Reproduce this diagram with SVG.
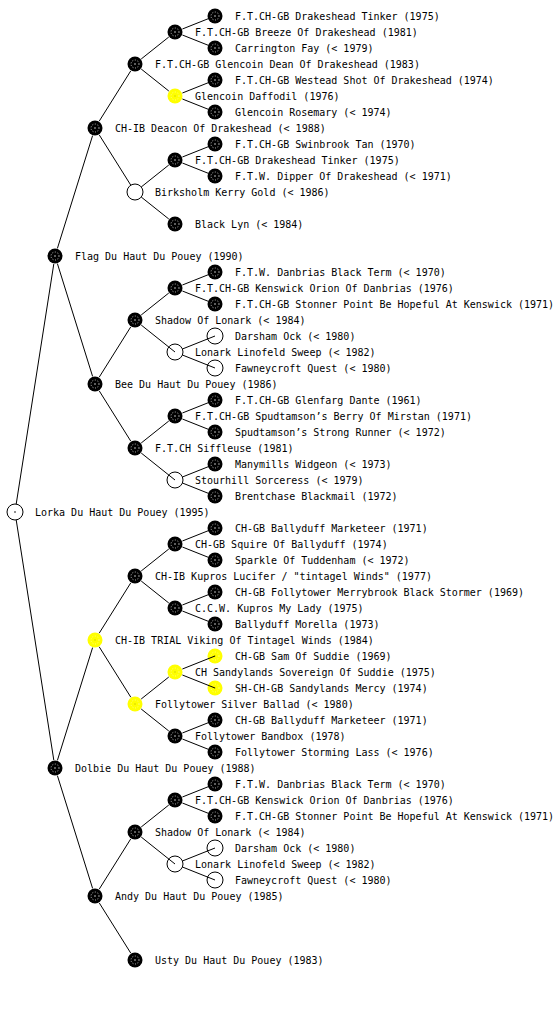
<svg xmlns="http://www.w3.org/2000/svg" xmlns:xlink="http://www.w3.org/1999/xlink" width="560" height="1024" viewBox="0 0 560 1024">
<style>
text{font-family:"DejaVu Sans Mono","Liberation Mono",monospace;font-size:10px;fill:#000}
.c line{stroke:#000;stroke-width:1}
.w{fill:#fff;stroke:#000;stroke-width:1}
</style>
<defs>
<g id="bn"><circle r="7.5" fill="#000"/><circle r="4" fill="none" stroke="#fff" stroke-width="0.8" stroke-dasharray="0.9 1.7"/><circle r="0.7" fill="#fff"/></g>
<g id="yn"><circle r="7.5" fill="#ffff00"/><circle r="4" fill="none" stroke="#fffbb0" stroke-width="0.8" stroke-dasharray="0.9 1.7"/><circle r="0.7" fill="#c8c800"/></g>
</defs>
<rect width="560" height="1024" fill="#fff"/>
<g id="nodes">
<g id="n0"><circle class="w" cx="15" cy="512" r="8"/><circle cx="15" cy="512" r="0.8" fill="#000"/><text x="35" y="516">Lorka Du Haut Du Pouey (1995)</text></g>
<g id="n1"><use xlink:href="#bn" x="55" y="256"/><text x="75" y="260">Flag Du Haut Du Pouey (1990)</text></g>
<g id="n2"><use xlink:href="#bn" x="55" y="768"/><text x="75" y="772">Dolbie Du Haut Du Pouey (1988)</text></g>
<g id="n11"><use xlink:href="#bn" x="95" y="128"/><text x="115" y="132">CH-IB Deacon Of Drakeshead (&lt; 1988)</text></g>
<g id="n12"><use xlink:href="#bn" x="95" y="384"/><text x="115" y="388">Bee Du Haut Du Pouey (1986)</text></g>
<g id="n21"><use xlink:href="#yn" x="95" y="640"/><text x="115" y="644">CH-IB TRIAL Viking Of Tintagel Winds (1984)</text></g>
<g id="n22"><use xlink:href="#bn" x="95" y="896"/><text x="115" y="900">Andy Du Haut Du Pouey (1985)</text></g>
<g id="n111"><use xlink:href="#bn" x="135" y="64"/><text x="155" y="68">F.T.CH-GB Glencoin Dean Of Drakeshead (1983)</text></g>
<g id="n112"><circle class="w" cx="135" cy="192" r="8"/><text x="155" y="196">Birksholm Kerry Gold (&lt; 1986)</text></g>
<g id="n121"><use xlink:href="#bn" x="135" y="320"/><text x="155" y="324">Shadow Of Lonark (&lt; 1984)</text></g>
<g id="n122"><use xlink:href="#bn" x="135" y="448"/><text x="155" y="452">F.T.CH Siffleuse (1981)</text></g>
<g id="n211"><use xlink:href="#bn" x="135" y="576"/><text x="155" y="580">CH-IB Kupros Lucifer / "tintagel Winds" (1977)</text></g>
<g id="n212"><use xlink:href="#yn" x="135" y="704"/><text x="155" y="708">Follytower Silver Ballad (&lt; 1980)</text></g>
<g id="n221"><use xlink:href="#bn" x="135" y="832"/><text x="155" y="836">Shadow Of Lonark (&lt; 1984)</text></g>
<g id="n222"><use xlink:href="#bn" x="135" y="960"/><text x="155" y="964">Usty Du Haut Du Pouey (1983)</text></g>
<g id="n1111"><use xlink:href="#bn" x="175" y="32"/><text x="195" y="36">F.T.CH-GB Breeze Of Drakeshead (1981)</text></g>
<g id="n1112"><use xlink:href="#yn" x="175" y="96"/><text x="195" y="100">Glencoin Daffodil (1976)</text></g>
<g id="n1121"><use xlink:href="#bn" x="175" y="160"/><text x="195" y="164">F.T.CH-GB Drakeshead Tinker (1975)</text></g>
<g id="n1122"><use xlink:href="#bn" x="175" y="224"/><text x="195" y="228">Black Lyn (&lt; 1984)</text></g>
<g id="n1211"><use xlink:href="#bn" x="175" y="288"/><text x="195" y="292">F.T.CH-GB Kenswick Orion Of Danbrias (1976)</text></g>
<g id="n1212"><circle class="w" cx="175" cy="352" r="8"/><text x="195" y="356">Lonark Linofeld Sweep (&lt; 1982)</text></g>
<g id="n1221"><use xlink:href="#bn" x="175" y="416"/><text x="195" y="420">F.T.CH-GB Spudtamson’s Berry Of Mirstan (1971)</text></g>
<g id="n1222"><circle class="w" cx="175" cy="480" r="8"/><text x="195" y="484">Stourhill Sorceress (&lt; 1979)</text></g>
<g id="n2111"><use xlink:href="#bn" x="175" y="544"/><text x="195" y="548">CH-GB Squire Of Ballyduff (1974)</text></g>
<g id="n2112"><use xlink:href="#bn" x="175" y="608"/><text x="195" y="612">C.C.W. Kupros My Lady (1975)</text></g>
<g id="n2121"><use xlink:href="#yn" x="175" y="672"/><text x="195" y="676">CH Sandylands Sovereign Of Suddie (1975)</text></g>
<g id="n2122"><use xlink:href="#bn" x="175" y="736"/><text x="195" y="740">Follytower Bandbox (1978)</text></g>
<g id="n2211"><use xlink:href="#bn" x="175" y="800"/><text x="195" y="804">F.T.CH-GB Kenswick Orion Of Danbrias (1976)</text></g>
<g id="n2212"><circle class="w" cx="175" cy="864" r="8"/><text x="195" y="868">Lonark Linofeld Sweep (&lt; 1982)</text></g>
<g id="g5a"><use xlink:href="#bn" x="215" y="16"/><text x="235" y="20">F.T.CH-GB Drakeshead Tinker (1975)</text></g>
<g id="g5b"><use xlink:href="#bn" x="215" y="48"/><text x="235" y="52">Carrington Fay (&lt; 1979)</text></g>
<g id="g5c"><use xlink:href="#bn" x="215" y="80"/><text x="235" y="84">F.T.CH-GB Westead Shot Of Drakeshead (1974)</text></g>
<g id="g5d"><use xlink:href="#bn" x="215" y="112"/><text x="235" y="116">Glencoin Rosemary (&lt; 1974)</text></g>
<g id="g5e"><use xlink:href="#bn" x="215" y="144"/><text x="235" y="148">F.T.CH-GB Swinbrook Tan (1970)</text></g>
<g id="g5f"><use xlink:href="#bn" x="215" y="176"/><text x="235" y="180">F.T.W. Dipper Of Drakeshead (&lt; 1971)</text></g>
<g id="g5g"><use xlink:href="#bn" x="215" y="272"/><text x="235" y="276">F.T.W. Danbrias Black Term (&lt; 1970)</text></g>
<g id="g5h"><use xlink:href="#bn" x="215" y="304"/><text x="235" y="308">F.T.CH-GB Stonner Point Be Hopeful At Kenswick (1971)</text></g>
<g id="g5i"><circle class="w" cx="215" cy="336" r="8"/><text x="235" y="340">Darsham Ock (&lt; 1980)</text></g>
<g id="g5j"><circle class="w" cx="215" cy="368" r="8"/><text x="235" y="372">Fawneycroft Quest (&lt; 1980)</text></g>
<g id="g5k"><use xlink:href="#bn" x="215" y="400"/><text x="235" y="404">F.T.CH-GB Glenfarg Dante (1961)</text></g>
<g id="g5l"><use xlink:href="#bn" x="215" y="432"/><text x="235" y="436">Spudtamson’s Strong Runner (&lt; 1972)</text></g>
<g id="g5m"><use xlink:href="#bn" x="215" y="464"/><text x="235" y="468">Manymills Widgeon (&lt; 1973)</text></g>
<g id="g5n"><use xlink:href="#bn" x="215" y="496"/><text x="235" y="500">Brentchase Blackmail (1972)</text></g>
<g id="g5o"><use xlink:href="#bn" x="215" y="528"/><text x="235" y="532">CH-GB Ballyduff Marketeer (1971)</text></g>
<g id="g5p"><use xlink:href="#bn" x="215" y="560"/><text x="235" y="564">Sparkle Of Tuddenham (&lt; 1972)</text></g>
<g id="g5q"><use xlink:href="#bn" x="215" y="592"/><text x="235" y="596">CH-GB Follytower Merrybrook Black Stormer (1969)</text></g>
<g id="g5r"><use xlink:href="#bn" x="215" y="624"/><text x="235" y="628">Ballyduff Morella (1973)</text></g>
<g id="g5s"><use xlink:href="#yn" x="215" y="656"/><text x="235" y="660">CH-GB Sam Of Suddie (1969)</text></g>
<g id="g5t"><use xlink:href="#yn" x="215" y="688"/><text x="235" y="692">SH-CH-GB Sandylands Mercy (1974)</text></g>
<g id="g5u"><use xlink:href="#bn" x="215" y="720"/><text x="235" y="724">CH-GB Ballyduff Marketeer (1971)</text></g>
<g id="g5v"><use xlink:href="#bn" x="215" y="752"/><text x="235" y="756">Follytower Storming Lass (&lt; 1976)</text></g>
<g id="g5w"><use xlink:href="#bn" x="215" y="784"/><text x="235" y="788">F.T.W. Danbrias Black Term (&lt; 1970)</text></g>
<g id="g5x"><use xlink:href="#bn" x="215" y="816"/><text x="235" y="820">F.T.CH-GB Stonner Point Be Hopeful At Kenswick (1971)</text></g>
<g id="g5y"><circle class="w" cx="215" cy="848" r="8"/><text x="235" y="852">Darsham Ock (&lt; 1980)</text></g>
<g id="g5z"><circle class="w" cx="215" cy="880" r="8"/><text x="235" y="884">Fawneycroft Quest (&lt; 1980)</text></g>
</g>
<g id="connectors" class="c">
<line x1="16.2" y1="504.1" x2="53.8" y2="263.9"/>
<line x1="16.2" y1="519.9" x2="53.8" y2="760.1"/>
<line x1="57.4" y1="248.4" x2="92.6" y2="135.6"/>
<line x1="57.4" y1="263.6" x2="92.6" y2="376.4"/>
<line x1="57.4" y1="760.4" x2="92.6" y2="647.6"/>
<line x1="57.4" y1="775.6" x2="92.6" y2="888.4"/>
<line x1="99.2" y1="121.2" x2="130.8" y2="70.8"/>
<line x1="99.2" y1="134.8" x2="130.8" y2="185.2"/>
<line x1="99.2" y1="377.2" x2="130.8" y2="326.8"/>
<line x1="99.2" y1="390.8" x2="130.8" y2="441.2"/>
<line x1="99.2" y1="633.2" x2="130.8" y2="582.8"/>
<line x1="99.2" y1="646.8" x2="130.8" y2="697.2"/>
<line x1="99.2" y1="889.2" x2="130.8" y2="838.8"/>
<line x1="99.2" y1="902.8" x2="130.8" y2="953.2"/>
<line x1="141.2" y1="59" x2="168.8" y2="37"/>
<line x1="141.2" y1="69" x2="168.8" y2="91"/>
<line x1="141.2" y1="187" x2="168.8" y2="165"/>
<line x1="141.2" y1="197" x2="168.8" y2="219"/>
<line x1="141.2" y1="315" x2="168.8" y2="293"/>
<line x1="141.2" y1="325" x2="175" y2="352"/>
<line x1="141.2" y1="443" x2="168.8" y2="421"/>
<line x1="141.2" y1="453" x2="175" y2="480"/>
<line x1="141.2" y1="571" x2="168.8" y2="549"/>
<line x1="141.2" y1="581" x2="168.8" y2="603"/>
<line x1="141.2" y1="699" x2="168.8" y2="677"/>
<line x1="141.2" y1="709" x2="168.8" y2="731"/>
<line x1="141.2" y1="827" x2="168.8" y2="805"/>
<line x1="141.2" y1="837" x2="175" y2="864"/>
<line x1="182.4" y1="29" x2="208" y2="18.8"/>
<line x1="182.4" y1="35" x2="208" y2="45.2"/>
<line x1="182.4" y1="93" x2="208" y2="82.8"/>
<line x1="182.4" y1="99" x2="208" y2="109.2"/>
<line x1="182.4" y1="157" x2="208" y2="146.8"/>
<line x1="182.4" y1="163" x2="208" y2="173.2"/>
<line x1="182.4" y1="285" x2="208" y2="274.8"/>
<line x1="182.4" y1="291" x2="208" y2="301.2"/>
<line x1="182.4" y1="349" x2="215" y2="336"/>
<line x1="182.4" y1="355" x2="215" y2="368"/>
<line x1="182.4" y1="413" x2="208" y2="402.8"/>
<line x1="182.4" y1="419" x2="208" y2="429.2"/>
<line x1="182.4" y1="477" x2="208" y2="466.8"/>
<line x1="182.4" y1="483" x2="208" y2="493.2"/>
<line x1="182.4" y1="541" x2="208" y2="530.8"/>
<line x1="182.4" y1="547" x2="208" y2="557.2"/>
<line x1="182.4" y1="605" x2="208" y2="594.8"/>
<line x1="182.4" y1="611" x2="208" y2="621.2"/>
<line x1="182.4" y1="669" x2="215" y2="656"/>
<line x1="182.4" y1="675" x2="215" y2="688"/>
<line x1="182.4" y1="733" x2="208" y2="722.8"/>
<line x1="182.4" y1="739" x2="208" y2="749.2"/>
<line x1="182.4" y1="797" x2="208" y2="786.8"/>
<line x1="182.4" y1="803" x2="208" y2="813.2"/>
<line x1="182.4" y1="861" x2="215" y2="848"/>
<line x1="182.4" y1="867" x2="215" y2="880"/>
</g>
</svg>
